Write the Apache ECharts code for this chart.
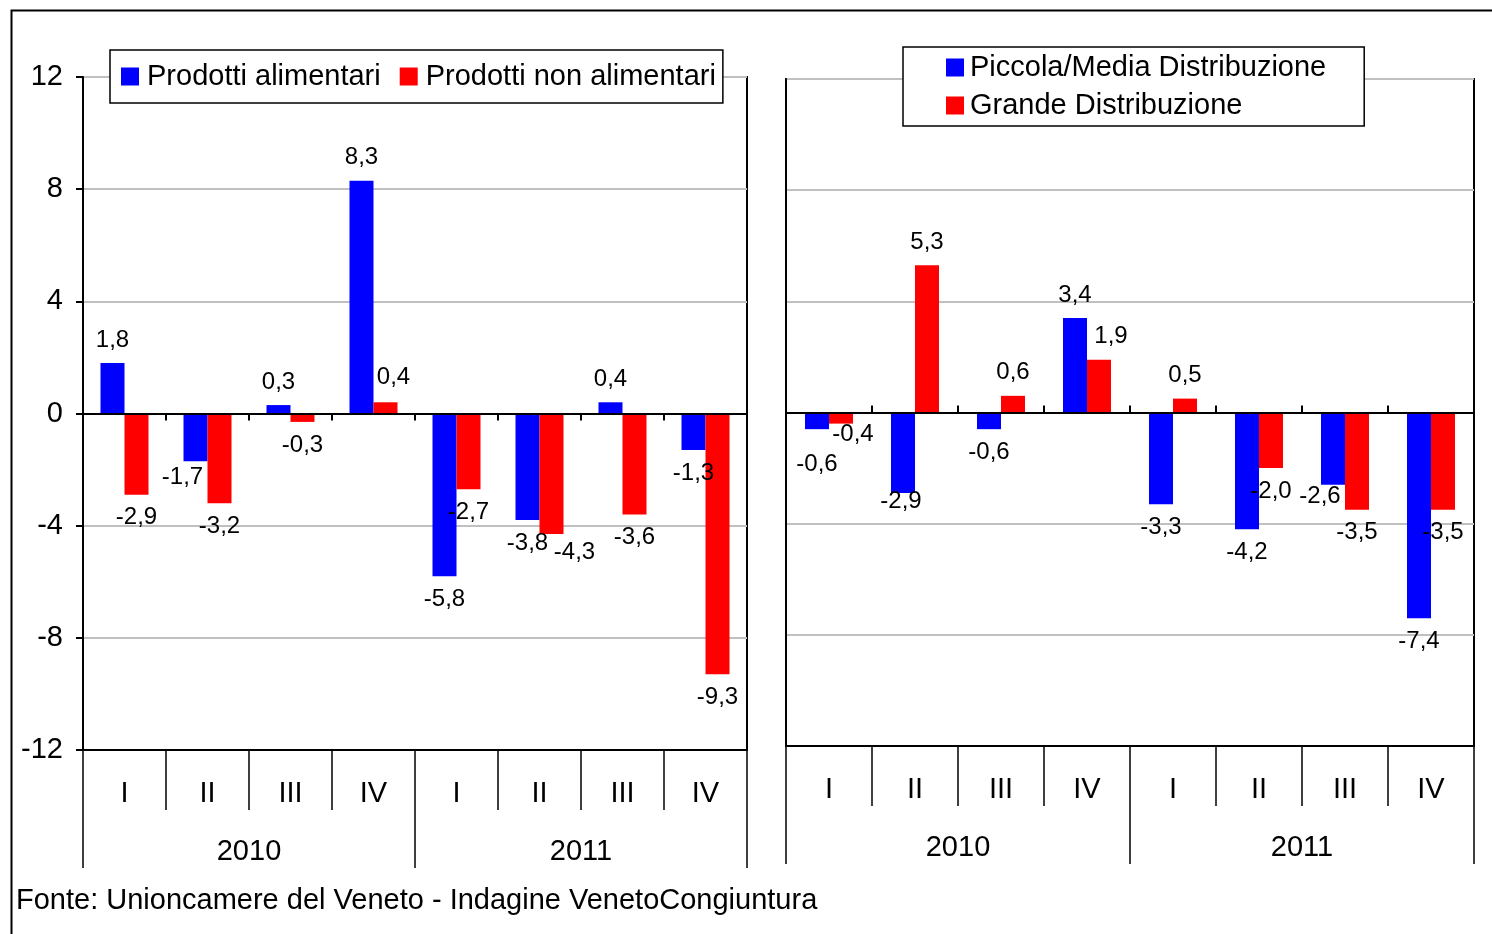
<!DOCTYPE html>
<html>
<head>
<meta charset="utf-8">
<script src="https://cdn.jsdelivr.net/npm/echarts@6/dist/echarts.min.js"></script>
<style>
html,body{margin:0;padding:0;background:#fff;}
#chart{width:1492px;height:934px;}
</style>
</head>
<body>
<div id="chart"></div>
<script>
// ---- data ----
const quarters = ["I", "II", "III", "IV", "I", "II", "III", "IV"];
const years = ["2010", "2011"];
const yTicks = { min: -12, max: 12, interval: 4 };

const seriesNamesLeft = ["Prodotti alimentari", "Prodotti non alimentari"];
const alimentari = [1.8, -1.7, 0.3, 8.3, -5.8, -3.8, 0.4, -1.3];
const nonAlimentari = [-2.9, -3.2, -0.3, 0.4, -2.7, -4.3, -3.6, -9.3];

const seriesNamesRight = ["Piccola/Media Distribuzione", "Grande Distribuzione"];
const piccolaMedia = [-0.6, -2.9, -0.6, 3.4, -3.3, -4.2, -2.6, -7.4];
const grande = [-0.4, 5.3, 0.6, 1.9, 0.5, -2.0, -3.5, -3.5];

const sourceText = "Fonte: Unioncamere del Veneto - Indagine VenetoCongiuntura";

// ---- label tweaks (style only) ----
const labelOffsets = {
  0: { 1: [-13, -7] },
  1: { 3: [8, -2], 5: [23, -5] },
  2: { 0: [0, 12], 1: [-2, -15], 6: [-13, -11] },
  3: { 0: [12, -12], 3: [12, 0] }
};

const FONT = "'Liberation Sans', Arial, sans-serif";
const BLUE = "#0000FF", RED = "#FF0000";
const BIG = 29;

function fmt(v) { return v.toFixed(1).replace(".", ","); }

function buildData(values, sIdx) {
  return values.map((v, i) => {
    const off = (labelOffsets[sIdx] || {})[i];
    const lbl = { position: v >= 0 ? "top" : "bottom" };
    if (off) lbl.offset = off;
    return { value: v, label: lbl };
  });
}

function barSeries(name, values, sIdx, color, axisIdx) {
  return {
    name: name,
    type: "bar",
    xAxisIndex: axisIdx,
    yAxisIndex: axisIdx === 0 ? 0 : 1,
    data: buildData(values, sIdx),
    barWidth: 24,
    barGap: "0%",
    itemStyle: { color: color },
    label: {
      show: true,
      distance: 11,
      formatter: p => fmt(p.value),
      fontFamily: FONT,
      fontSize: 24,
      color: "#000"
    },
    z: 3
  };
}

function xAxesFor(g, zeroTickInside) {
  return [
    { // quarters
      type: "category", gridIndex: g, data: quarters, position: "bottom",
      axisLine: { onZero: false, lineStyle: { color: "#000", width: 2 } },
      axisTick: { show: true, length: 60, lineStyle: { color: "#000", width: 1.5 } },
      axisLabel: { fontFamily: FONT, fontSize: BIG, color: "#000", margin: 29 },
      splitLine: { show: false }
    },
    { // years
      type: "category", gridIndex: g, data: years, position: "bottom",
      axisLine: { show: false, onZero: false },
      axisTick: { show: true, length: 118, lineStyle: { color: "#000", width: 1.5 } },
      axisLabel: { fontFamily: FONT, fontSize: BIG, color: "#000", margin: 87 },
      splitLine: { show: false }
    },
    { // zero line
      type: "category", gridIndex: g, data: quarters, position: "bottom",
      axisLine: { show: true, onZero: true, lineStyle: { color: "#000", width: 2 } },
      axisTick: { show: true, inside: zeroTickInside, length: 7, lineStyle: { color: "#000", width: 2 } },
      axisLabel: { show: false },
      splitLine: { show: false },
      z: 5
    }
  ];
}

const chart = echarts.init(document.getElementById("chart"), null, { renderer: "canvas" });

const option = {
  animation: false,
  backgroundColor: "#fff",
  textStyle: { fontFamily: FONT },
  grid: [
    { left: 83, top: 77, width: 664, height: 673, show: true, borderColor: "#000", borderWidth: 2, backgroundColor: "transparent" },
    { left: 786, top: 79, width: 688, height: 667, show: true, borderColor: "#000", borderWidth: 2, backgroundColor: "transparent" }
  ],
  legend: [
    {
      data: seriesNamesLeft,
      left: 110, top: 50,
      orient: "horizontal",
      icon: "rect", itemWidth: 18, itemHeight: 18, itemGap: 19,
      padding: [12, 7, 12, 11],
      backgroundColor: "#fff", borderColor: "#000", borderWidth: 1.5,
      textStyle: { fontFamily: FONT, fontSize: BIG, color: "#000", padding: [0, 0, 0, 3] },
      selectedMode: false, z: 10
    },
    {
      data: seriesNamesRight,
      left: 903, top: 47,
      orient: "vertical",
      icon: "rect", itemWidth: 18, itemHeight: 18, itemGap: 9,
      padding: [6, 38, 6, 43],
      backgroundColor: "#fff", borderColor: "#000", borderWidth: 1.5,
      textStyle: { fontFamily: FONT, fontSize: BIG, color: "#000", padding: [0, 0, 0, 1] },
      selectedMode: false, z: 10
    }
  ],
  xAxis: [].concat(xAxesFor(0, false), xAxesFor(1, true)),
  yAxis: [
    {
      type: "value", gridIndex: 0, min: yTicks.min, max: yTicks.max, interval: yTicks.interval,
      axisLine: { show: true, onZero: false, lineStyle: { color: "#000", width: 2 } },
      axisTick: { show: true, length: 7, lineStyle: { color: "#000", width: 2 } },
      axisLabel: { fontFamily: FONT, fontSize: BIG, color: "#000", margin: 20 },
      splitLine: { show: true, lineStyle: { color: "#c0c0c0", width: 2 } }
    },
    {
      type: "value", gridIndex: 1, min: yTicks.min, max: yTicks.max, interval: yTicks.interval,
      axisLine: { show: true, onZero: false, lineStyle: { color: "#000", width: 2 } },
      axisTick: { show: false },
      axisLabel: { show: false },
      splitLine: { show: true, lineStyle: { color: "#c0c0c0", width: 2 } }
    }
  ],
  series: [
    barSeries(seriesNamesLeft[0], alimentari, 0, BLUE, 0),
    barSeries(seriesNamesLeft[1], nonAlimentari, 1, RED, 0),
    barSeries(seriesNamesRight[0], piccolaMedia, 2, BLUE, 3),
    barSeries(seriesNamesRight[1], grande, 3, RED, 3)
  ],
  graphic: [
    {
      type: "rect", left: 9, top: 8, silent: true,
      shape: { width: 1520, height: 1000 },
      style: { fill: null, stroke: "#000", lineWidth: 2 }
    },
    {
      type: "text", left: 16, top: 886,
      style: { text: sourceText, fontFamily: FONT, fontSize: BIG, fill: "#000" }
    }
  ]
};

chart.setOption(option);
</script>
</body>
</html>
